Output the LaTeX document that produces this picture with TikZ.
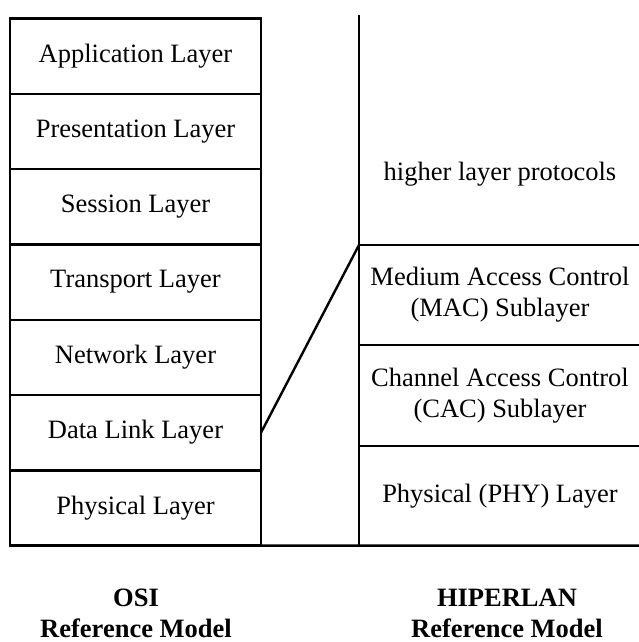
\documentclass[tikz,border=0pt]{standalone}
\usepackage{fontspec}
\setmainfont{Liberation Serif}
\begin{document}
\begin{tikzpicture}[x=1pt,y=-1pt,
  line/.style={line width=2.4pt},
  layer/.style={draw,line width=2.4pt,minimum width=251pt,minimum height=75.3pt,
    inner sep=0pt,outer sep=0pt,anchor=north west,font=\fontsize{26.5}{31}\selectfont},
  hlayer/.style={inner sep=0pt,align=center,font=\fontsize{26.5}{31}\selectfont},
  title/.style={align=center,font=\fontsize{26.5}{31}\selectfont\bfseries}]
\useasboundingbox (0,0) rectangle (639,642);
% OSI stack
\node[layer] (app)  at (10,18.5)  {Application Layer};
\node[layer] (pres) at (10,93.8)  {Presentation Layer};
\node[layer] (sess) at (10,169.1) {Session Layer};
\node[layer] (tran) at (10,244.4) {Transport Layer};
\node[layer] (net)  at (10,319.7) {Network Layer};
\node[layer] (dll)  at (10,395.0) {Data Link Layer};
\node[layer] (phy)  at (10,470.3) {Physical Layer};
% HIPERLAN stack
\coordinate (vtop) at (359,15);
\coordinate (vbot) at (359,545.6);
\coordinate (hend) at (639,545.6);
\draw[line] (vtop) -- (vbot);
\draw[line] (phy.south east) -- (hend);
\draw[line] (359,245) -- (639,245);
\draw[line] (359,345) -- (639,345);
\draw[line] (359,446) -- (639,446);
\node[hlayer] (hlp) at (500,174) {higher layer protocols};
\node[hlayer] (mac) at (500,295) {Medium Access Control\\(MAC) Sublayer};
\node[hlayer] (cac) at (500,396) {Channel Access Control\\(CAC) Sublayer};
\node[hlayer] (hphy) at (500,496) {Physical (PHY) Layer};
% mapping of the data link layer onto the HIPERLAN sublayers
\coordinate (mtop) at (359,245);
\draw[line] (dll.east) -- (mtop);
% captions
\node[title] (osi) at (136,613) {OSI\\Reference Model};
\node[title] (hip) at (507,613) {HIPERLAN\\Reference Model};
\end{tikzpicture}
\end{document}
